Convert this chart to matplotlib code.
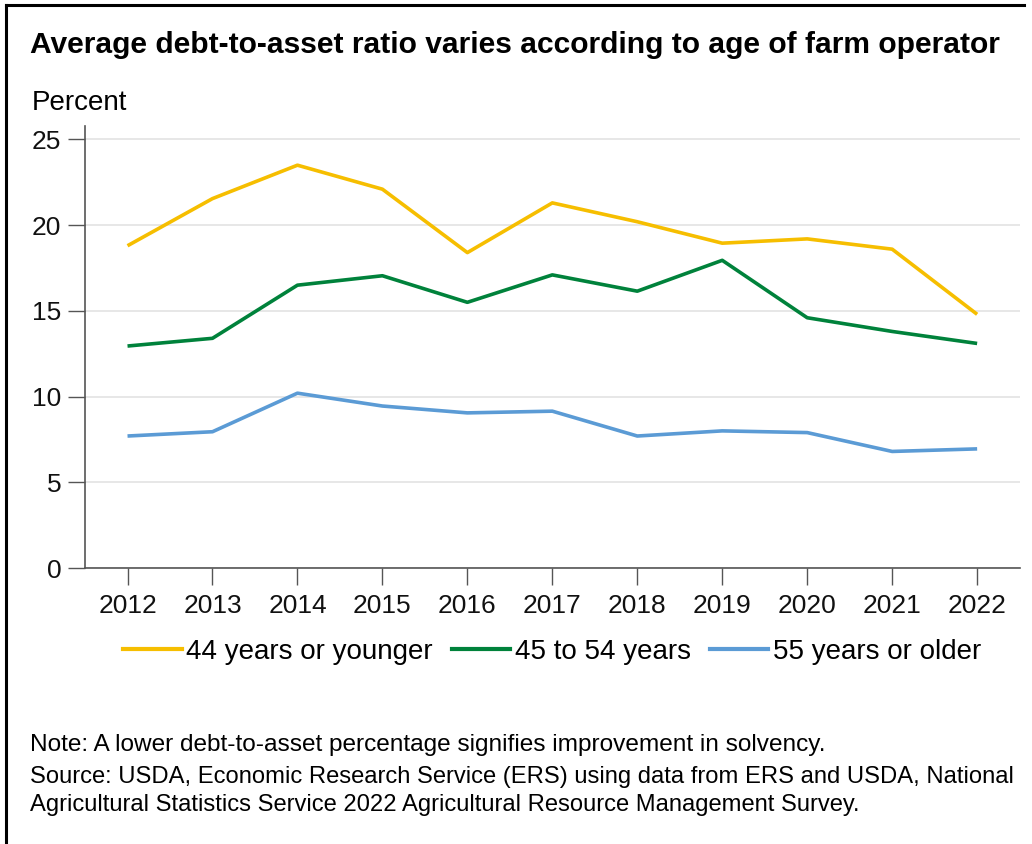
import matplotlib
matplotlib.use('Agg')
import matplotlib.pyplot as plt
from matplotlib.lines import Line2D

plt.rcParams['font.family'] = ['Liberation Sans', 'DejaVu Sans']

years = [2012, 2013, 2014, 2015, 2016, 2017, 2018, 2019, 2020, 2021, 2022]
young = [18.8, 21.55, 23.5, 22.1, 18.4, 21.3, 20.2, 18.95, 19.2, 18.6, 14.8]
middle = [12.95, 13.4, 16.5, 17.05, 15.5, 17.1, 16.15, 17.95, 14.6, 13.8, 13.1]
older = [7.7, 7.95, 10.2, 9.45, 9.05, 9.15, 7.7, 8.0, 7.9, 6.8, 6.95]

series_labels = ['44 years or younger', '45 to 54 years', '55 years or older']
series_colors = ['#F6BE00', '#00823B', '#5B9BD5']

title = 'Average debt-to-asset ratio varies according to age of farm operator'
note = 'Note: A lower debt-to-asset percentage signifies improvement in solvency.'
source = ('Source: USDA, Economic Research Service (ERS) using data from ERS and USDA, National\n'
          'Agricultural Statistics Service 2022 Agricultural Resource Management Survey.')

fig = plt.figure(figsize=(10.32, 8.44), dpi=100)
ax = fig.add_axes([0.0824, 0.327, 0.9056, 0.524])

for vals, color in zip([young, middle, older], series_colors):
    ax.plot(years, vals, color=color, linewidth=2.6, solid_capstyle='butt')

ax.set_xlim(2011.5, 2022.5)
ax.set_ylim(0, 25.8)
ax.set_yticks([0, 5, 10, 15, 20, 25])
ax.set_xticks(years)
ax.yaxis.grid(True, color='#e3e3e3', linewidth=1.2)
ax.set_axisbelow(True)
for s in ['top', 'right']:
    ax.spines[s].set_visible(False)
for s in ['left', 'bottom']:
    ax.spines[s].set_color('#555555')
    ax.spines[s].set_linewidth(1.2)
ax.tick_params(axis='both', length=12, width=1.0, color='#555555',
               labelsize=19, labelcolor='#111111')
ax.tick_params(axis='x', pad=7)
ax.tick_params(axis='y', pad=5)

handles = [Line2D([], [], color=c, linewidth=3) for c in series_colors]
fig.legend(handles, series_labels, loc='center', bbox_to_anchor=(0.535, 0.2275),
           ncol=3, frameon=False, fontsize=20, handlelength=2.1,
           handletextpad=0.15, columnspacing=0.7)

fig.text(0.029, 0.947, title, fontsize=21.6, fontweight='bold', va='center')
fig.text(0.031, 0.878, 'Percent', fontsize=20, va='center')
fig.text(0.029, 0.117, note, fontsize=17.6, va='center')
fig.text(0.029, 0.0628, source, fontsize=17.1, va='center', linespacing=1.35)

# frame around the top and left edges
fig.add_artist(Line2D([0.006, 0.992], [0.994, 0.994], color='black',
                      linewidth=2.2, transform=fig.transFigure))
fig.add_artist(Line2D([0.006, 0.006], [0.0, 0.994], color='black',
                      linewidth=2.2, transform=fig.transFigure))

fig.savefig('out.png', dpi=100, facecolor='white')
